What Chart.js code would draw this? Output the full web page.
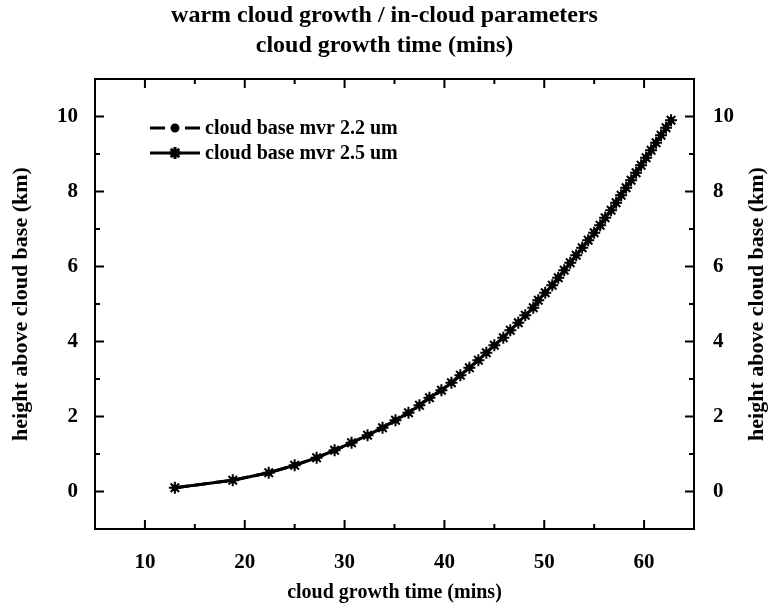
<!DOCTYPE html>
<html>
<head>
<meta charset="utf-8">
<title>warm cloud growth</title>
<script src="https://cdn.jsdelivr.net/npm/chart.js@4/dist/chart.umd.min.js"></script>
<style>
  html, body { margin: 0; padding: 0; background: #fff; }
  #wrap { width: 769px; height: 612px; }
</style>
</head>
<body>
<div id="wrap"><canvas id="chart" width="769" height="612"></canvas></div>
<script>
// height above cloud base (km), one point every 0.2 km
const heights = [
  0.1, 0.3, 0.5, 0.7, 0.9, 1.1, 1.3, 1.5, 1.7, 1.9,
  2.1, 2.3, 2.5, 2.7, 2.9, 3.1, 3.3, 3.5, 3.7, 3.9,
  4.1, 4.3, 4.5, 4.7, 4.9, 5.1, 5.3, 5.5, 5.7, 5.9,
  6.1, 6.3, 6.5, 6.7, 6.9, 7.1, 7.3, 7.5, 7.7, 7.9,
  8.1, 8.3, 8.5, 8.7, 8.9, 9.1, 9.3, 9.5, 9.7, 9.9
];
// cloud growth time (mins)
const timeMvr25 = [
  13.0, 18.8, 22.4, 25.0, 27.2, 29.0, 30.7, 32.3, 33.8, 35.1,
  36.4, 37.5, 38.5, 39.7, 40.7, 41.6, 42.5, 43.4, 44.2, 45.0,
  45.9, 46.6, 47.4, 48.1, 48.9, 49.4, 50.1, 50.8, 51.4, 52.0,
  52.6, 53.2, 53.8, 54.4, 55.0, 55.6, 56.1, 56.7, 57.2, 57.7,
  58.2, 58.7, 59.2, 59.7, 60.2, 60.7, 61.2, 61.7, 62.2, 62.7
];
// the 2.2 um curve lies right under the 2.5 um one
const timeMvr22 = [
  13.0, 18.8, 22.4, 25.0, 27.2, 29.0, 30.7, 32.3, 33.8, 35.1,
  36.4, 37.5, 38.5, 39.7, 40.7, 41.6, 42.5, 43.4, 44.2, 45.0,
  45.9, 46.6, 47.4, 48.1, 48.9, 49.4, 50.1, 50.8, 51.4, 52.0,
  52.6, 53.2, 53.8, 54.4, 55.0, 55.6, 56.1, 56.7, 57.2, 57.7,
  58.2, 58.7, 59.2, 59.7, 60.2, 60.7, 61.2, 61.7, 62.2, 62.7
];
const seriesLabels = ['cloud base mvr 2.2 um', 'cloud base mvr 2.5 um'];

const xMajor = [10, 20, 30, 40, 50, 60];
const xMinor = [15, 25, 35, 45, 55];
const yMajor = [0, 2, 4, 6, 8, 10];
const yMinor = [1, 3, 5, 7, 9];

const yTitle = 'height above cloud base (km)';
const serif = '"Liberation Serif", "Times New Roman", serif';
const tickFont = { family: serif, size: 21, weight: 'bold' };
const axisFont = { family: serif, size: 22, weight: 'bold', lineHeight: 1 };

const toPoints = (xs, ys) => xs.map((v, i) => ({ x: v, y: ys[i] }));

// box and inward ticks on all four sides, plus the right axis title
const frameTicks = {
  id: 'frameTicks',
  afterDraw(chart) {
    const { ctx, chartArea: a, scales } = chart;
    ctx.save();
    ctx.strokeStyle = '#000';
    ctx.lineWidth = 2;
    ctx.strokeRect(a.left, a.top, a.right - a.left, a.bottom - a.top);
    ctx.beginPath();
    const xt = (vals, len) => vals.forEach(v => {
      const px = scales.x.getPixelForValue(v);
      ctx.moveTo(px, a.bottom); ctx.lineTo(px, a.bottom - len);
      ctx.moveTo(px, a.top); ctx.lineTo(px, a.top + len);
    });
    const yt = (vals, len) => vals.forEach(v => {
      const py = scales.y.getPixelForValue(v);
      ctx.moveTo(a.left, py); ctx.lineTo(a.left + len, py);
      ctx.moveTo(a.right, py); ctx.lineTo(a.right - len, py);
    });
    xt(xMajor, 9); xt(xMinor, 5);
    yt(yMajor, 9); yt(yMinor, 5);
    ctx.stroke();

    // same reading direction as the left title
    ctx.translate(chart.width - 12, (a.top + a.bottom) / 2);
    ctx.rotate(-Math.PI / 2);
    ctx.fillStyle = '#000';
    ctx.font = 'bold 22px ' + serif;
    ctx.textAlign = 'center';
    ctx.textBaseline = 'middle';
    ctx.fillText(yTitle, 0, 0);
    ctx.restore();
  }
};

// legend with line + marker samples inside the plot
const lineLegend = {
  id: 'lineLegend',
  afterDraw(chart) {
    const { ctx, chartArea: a } = chart;
    ctx.save();
    chart.data.datasets.forEach((ds, i) => {
      const y0 = a.top + 49 + i * 25;
      const x0 = a.left + 55;
      ctx.strokeStyle = '#000';
      ctx.fillStyle = '#000';
      ctx.lineWidth = ds.borderWidth;
      ctx.setLineDash(i === 0 ? [15, 20] : []);
      ctx.beginPath();
      ctx.moveTo(x0, y0); ctx.lineTo(x0 + 50, y0);
      ctx.stroke();
      ctx.setLineDash([]);
      Chart.helpers.drawPoint(ctx, {
        pointStyle: ds.pointStyle, radius: ds.pointRadius,
        rotation: 0, borderWidth: ds.pointBorderWidth
      }, x0 + 25, y0);
      ctx.font = 'bold 20px ' + serif;
      ctx.textAlign = 'left';
      ctx.textBaseline = 'middle';
      ctx.fillText(ds.label, x0 + 55, y0 + 1);
    });
    ctx.restore();
  }
};

const ctx = document.getElementById('chart').getContext('2d');
new Chart(ctx, {
  type: 'line',
  data: {
    datasets: [{
      label: seriesLabels[0],
      data: toPoints(timeMvr22, heights),
      borderColor: '#000',
      backgroundColor: '#000',
      borderWidth: 3,
      borderDash: [14, 6],
      pointStyle: 'circle',
      pointRadius: 3,
      pointBorderWidth: 1,
      fill: false,
      tension: 0
    }, {
      label: seriesLabels[1],
      data: toPoints(timeMvr25, heights),
      borderColor: '#000',
      backgroundColor: '#000',
      borderWidth: 3,
      pointStyle: 'star',
      pointRadius: 6,
      pointBorderWidth: 2,
      fill: false,
      tension: 0
    }]
  },
  options: {
    responsive: false,
    animation: false,
    devicePixelRatio: 1,
    layout: { padding: 0 },
    plugins: {
      legend: { display: false },
      tooltip: { enabled: false },
      title: {
        display: true,
        text: ['warm cloud growth / in-cloud parameters', 'cloud growth time (mins)'],
        color: '#000',
        font: { family: serif, size: 24, weight: 'bold', lineHeight: 1.25 },
        padding: { top: 1, bottom: 18 }
      }
    },
    scales: {
      x: {
        type: 'linear',
        min: 5,
        max: 65,
        afterBuildTicks: s => { s.ticks = xMajor.map(v => ({ value: v })); },
        afterFit: s => { s.height = 83; },
        grid: { display: false },
        border: { display: false },
        ticks: { color: '#000', font: tickFont, padding: 13, maxRotation: 0, autoSkip: false },
        title: {
          display: true, text: 'cloud growth time (mins)', color: '#000',
          font: { family: serif, size: 20, weight: 'bold', lineHeight: 1 },
          padding: { top: 0, bottom: 9 }
        }
      },
      y: {
        type: 'linear',
        position: 'left',
        min: -1,
        max: 11,
        afterBuildTicks: s => { s.ticks = yMajor.map(v => ({ value: v })); },
        afterFit: s => { s.width = 95; },
        grid: { display: false },
        border: { display: false },
        ticks: { color: '#000', font: tickFont, padding: 9 },
        title: { display: true, text: yTitle, color: '#000', font: axisFont, padding: { top: 10, bottom: 0 } }
      },
      y2: {
        type: 'linear',
        position: 'right',
        min: -1,
        max: 11,
        afterBuildTicks: s => { s.ticks = yMajor.map(v => ({ value: v })); },
        afterFit: s => { s.width = 75; },
        grid: { display: false },
        border: { display: false },
        ticks: { color: '#000', font: tickFont, padding: 11 },
        title: { display: false }
      }
    }
  },
  plugins: [frameTicks, lineLegend]
});
</script>
</body>
</html>
